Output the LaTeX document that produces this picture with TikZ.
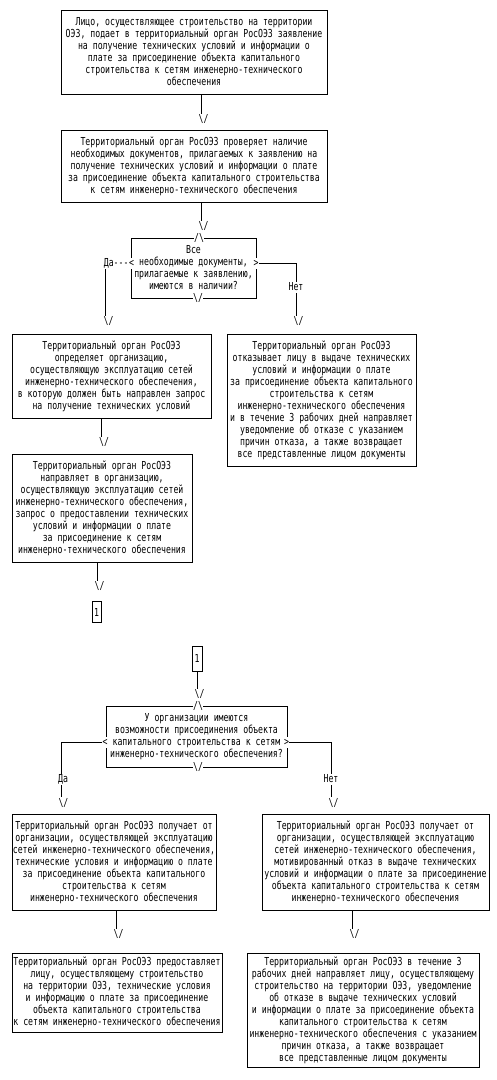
\documentclass[tikz,border=0pt]{standalone}
\usepackage{fontspec}
\newfontfamily\cmono[FakeStretch=0.745]{DejaVu Sans Mono}
\newcommand{\arrdn}{\textbackslash/}
\newcommand{\arrup}{/\textbackslash}
\tikzset{blk/.style={draw, align=center, inner sep=0pt, font=\cmono\fontsize{11}{12}\selectfont},
         arr/.style={inner sep=0pt, font=\cmono\fontsize{11}{12}\selectfont},
         brk/.style={fill=white, inner sep=0pt, minimum height=11pt, font=\cmono\fontsize{11}{12}\selectfont},
         lbl/.style={fill=white, inner sep=0pt, minimum height=11pt, font=\cmono\fontsize{11}{12}\selectfont}}

\begin{document}
\begin{tikzpicture}[x=1pt, y=-1pt, line width=1pt]
  \useasboundingbox (0,0) rectangle (497,1080);
  % first sheet
  \node[blk, minimum width=266, minimum height=84] (b1) at (194,52) {Лицо, осуществляющее строительство на территории\\ОЭЗ, подает в территориальный орган РосОЭЗ заявление\\на получение технических условий и информации о\\плате за присоединение объекта капитального\\строительства к сетям инженерно-технического\\обеспечения};
  \node[arr] (v1) at (203.5,119) {\arrdn};
  \draw ([xshift=-2.5]v1.north) -- ([xshift=-2.5]v1.north |- b1.south);
  \node[blk, minimum width=266, minimum height=72] (b2) at (194,166) {Территориальный орган РосОЭЗ проверяет наличие\\необходимых документов, прилагаемых к заявлению на\\получение технических условий и информации о плате\\за присоединение объекта капитального строительства\\к сетям инженерно-технического обеспечения};
  \node[arr] (v2) at (203.5,226) {\arrdn};
  \draw ([xshift=-2.5]v2.north) -- ([xshift=-2.5]v2.north |- b2.south);
  \node[blk, minimum width=125, minimum height=60] (d1) at (193.5,268) {Все\\необходимые документы,\\прилагаемые к заявлению,\\имеются в наличии?};
  \node[brk] (d1t) at (199,238) {\arrup};
  \node[brk] (d1b) at (198,298) {\arrdn};
  \node[brk] (d1l) at (131.5,263) {<};
  \node[brk] (d1r) at (256,263) {>};
  \node[lbl, anchor=east] (da1) at (129,263) {Да---};
  \node[arr] (v3) at (108.5,321) {\arrdn};
  \node[arr] (v4) at (298.5,321) {\arrdn};
  \draw ([xshift=2.5]da1.south west) -- ([xshift=2.5]da1.south west |- v3.north);
  \draw (d1r.east) -| ([xshift=-2.5]v4.north);
  \node[lbl] (net1) at (296,287) {Нет};
  \node[blk, minimum width=199, minimum height=84] (b3) at (111.5,376) {Территориальный орган РосОЭЗ\\определяет организацию,\\осуществляющую эксплуатацию сетей\\инженерно-технического обеспечения,\\в которую должен быть направлен запрос\\на получение технических условий};
  \node[blk, minimum width=189, minimum height=132] (b4) at (321.5,400) {Территориальный орган РосОЭЗ\\отказывает лицу в выдаче технических\\условий и информации о плате\\за присоединение объекта капитального\\строительства к сетям\\инженерно-технического обеспечения\\и в течение 3 рабочих дней направляет\\уведомление об отказе с указанием\\причин отказа, а также возвращает\\все представленные лицом документы};
  \node[arr] (v5) at (104,442) {\arrdn};
  \draw ([xshift=-2.5]v5.north) -- ([xshift=-2.5]v5.north |- b3.south);
  \node[blk, minimum width=180, minimum height=108] (b5) at (102,508) {Территориальный орган РосОЭЗ\\направляет в организацию,\\осуществляющую эксплуатацию сетей\\инженерно-технического обеспечения,\\запрос о предоставлении технических\\условий и информации о плате\\за присоединение к сетям\\инженерно-технического обеспечения};
  \node[arr] (v6) at (99.5,586) {\arrdn};
  \draw ([xshift=-2.5]v6.north) -- ([xshift=-2.5]v6.north |- b5.south);
  \node[blk, minimum width=9, minimum height=20.5] (c1) at (96.5,612) {1};
  % second sheet
  \node[blk, minimum width=10, minimum height=25] (c2) at (197,658.5) {1};
  \node[arr] (v7) at (199.5,694) {\arrdn};
  \draw (c2.south) -- (c2.south |- v7.north);
  \node[blk, minimum width=181, minimum height=61] (d2) at (196.5,736.5) {У организации имеются\\возможности присоединения объекта\\капитального строительства к сетям\\инженерно-технического обеспечения?};
  \node[brk] (d2t) at (198,706) {\arrup};
  \node[brk] (d2b) at (198,767) {\arrdn};
  \node[brk] (d2l) at (105,742) {<};
  \node[brk] (d2r) at (286.5,742) {>};
  \node[arr] (v8) at (63.5,802.5) {\arrdn};
  \node[arr] (v9) at (333.5,802.5) {\arrdn};
  \draw (d2l.west) -| ([xshift=-2.5]v8.north);
  \draw (d2r.east) -| ([xshift=-2.5]v9.north);
  \node[lbl] (da2) at (63,779) {Да};
  \node[lbl] (net2) at (331,779) {Нет};
  \node[blk, minimum width=204, minimum height=96] (b6) at (114,862) {Территориальный орган РосОЭЗ получает от\\организации, осуществляющей эксплуатацию\\сетей инженерно-технического обеспечения,\\технические условия и информацию о плате\\за присоединение объекта капитального\\строительства к сетям\\инженерно-технического обеспечения};
  \node[blk, minimum width=227, minimum height=96] (b7) at (375.5,862) {Территориальный орган РосОЭЗ получает от\\организации, осуществляющей эксплуатацию\\сетей инженерно-технического обеспечения,\\мотивированный отказ в выдаче технических\\условий и информации о плате за присоединение\\объекта капитального строительства к сетям\\инженерно-технического обеспечения};
  \node[arr] (v10) at (118.5,934) {\arrdn};
  \node[arr] (v11) at (354.5,934) {\arrdn};
  \draw ([xshift=-2.5]v10.north) -- ([xshift=-2.5]v10.north |- b6.south);
  \draw ([xshift=-2.5]v11.north) -- ([xshift=-2.5]v11.north |- b7.south);
  \node[blk, minimum width=210, minimum height=79] (b8) at (117,992.5) {Территориальный орган РосОЭЗ предоставляет\\лицу, осуществляющему строительство\\на территории ОЭЗ, технические условия\\и информацию о плате за присоединение\\объекта капитального строительства\\к сетям инженерно-технического обеспечения};
  \node[blk, minimum width=232, minimum height=114] (b9) at (363,1010) {Территориальный орган РосОЭЗ в течение 3\\рабочих дней направляет лицу, осуществляющему\\строительство на территории ОЭЗ, уведомление\\об отказе в выдаче технических условий\\и информации о плате за присоединение объекта\\капитального строительства к сетям\\инженерно-технического обеспечения с указанием\\причин отказа, а также возвращает\\все представленные лицом документы};
\end{tikzpicture}
\end{document}
